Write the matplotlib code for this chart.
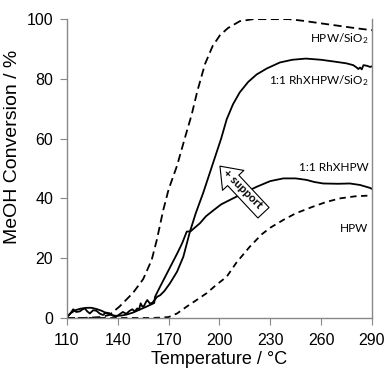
import numpy as np
import matplotlib
matplotlib.use('Agg')
import matplotlib.pyplot as plt

plt.rcParams['font.family'] = 'Liberation Sans'
plt.rcParams['mathtext.default'] = 'regular'

# HPW/SiO2 (dashed)
t_hpw_si = [110, 120, 130, 135, 141, 149, 155, 160, 163, 166.8, 170, 175, 180, 183.6, 187, 191.5,
            196, 200.3, 205, 212, 220, 230, 241, 250, 261, 270, 280, 290]
c_hpw_si = [0, 0, 0.3, 1.0, 3.8, 8.4, 13, 19.4, 26, 36, 43, 51, 61, 68, 76, 85,
            91, 94.6, 97, 99.3, 100, 100, 100, 99.4, 98.5, 97.8, 97, 96.3]

# HPW (dashed)
t_hpw = [110, 130, 150, 160, 165, 170, 175, 180.7, 186, 192.5, 198, 204.3, 210, 218, 225, 230,
         237.7, 245, 255, 263, 271, 280, 290]
c_hpw = [0, 0, 0, 0, 0.1, 0.3, 1.5, 3.8, 5.8, 8.3, 11, 13.8, 18.5, 23.9, 28, 30.2,
         32.8, 35, 37.2, 38.8, 40, 40.7, 41]

# 1:1 RhXHPW/SiO2 (solid, noisy at start)
t_rh_si = [110, 112, 113.7, 115.5, 117.6, 119, 120.5, 122, 123.5, 125.5, 127.4, 129.5, 131.3, 133, 135,
           137, 139, 141, 143, 145, 147, 148.6, 150, 151.5, 152.5, 153.5, 154.5, 155.5, 156.5, 157.4,
           159, 160.4, 162, 163.3, 165, 167.5, 170.8, 175, 178.7, 182.6, 186, 190.5, 194, 197.5,
           201, 204.3, 208, 212, 217, 222, 228, 235.7, 243, 251, 260, 269, 275, 279, 281, 282,
           283, 284, 285, 287, 289, 290]
c_rh_si = [0.3, 1.5, 2.9, 2.0, 2.2, 2.8, 3.2, 2.2, 1.5, 2.6, 2.4, 1.4, 1.0, 1.8, 1.6,
           0.8, 0.4, 1.2, 2.0, 1.4, 2.4, 2.9, 2.2, 3.2, 2.7, 4.9, 3.8, 4.0, 5.2, 6.0,
           4.8, 5.1, 6.2, 7.1, 7.6, 9.0, 11.6, 15.5, 20.5, 28.9, 35, 42, 48, 54,
           60, 66.5, 71.5, 75.5, 79, 81.5, 83.5, 85.5, 86.4, 86.8, 86.4, 85.7, 85.2, 84.6, 83.8, 83.3,
           83.8, 83.2, 84.6, 84.4, 84.0, 84.2]

# 1:1 RhXHPW (solid)
t_rh = [110, 112, 115, 118, 121.6, 124.5, 127.4, 130.5, 133.3, 136, 139, 142, 145, 149, 153, 157,
        161.5, 162, 165, 170, 175, 178, 180.7, 183, 185, 188.5, 192, 196.4, 201, 206.2, 214, 222,
        230, 237.7, 245, 251.4, 256, 261.3, 270, 277, 283, 289, 290]
c_rh = [0.3, 1.5, 2.6, 3.1, 3.4, 3.4, 3.0, 2.4, 1.6, 1.0, 0.7, 0.8, 1.1, 1.8, 2.8, 3.8,
        5.0, 7.1, 10.5, 16, 21.5, 25, 28.9, 29, 30, 31.7, 34, 36, 38, 39.5, 41.7, 43.9,
        45.8, 46.7, 46.7, 46.2, 45.5, 45, 44.9, 45, 44.5, 43.5, 43.2]

labels = [r'HPW/SiO$_2$', r'1:1 RhXHPW/SiO$_2$', '1:1 RhXHPW', 'HPW']
label_y = [93.6, 79.3, 50.5, 29.8]

x_ticks = [110, 140, 170, 200, 230, 260, 290]
y_ticks = [0, 20, 40, 60, 80, 100]

fig = plt.figure(figsize=(3.87, 3.68), dpi=100)
ax = fig.add_axes([0.173, 0.136, 0.788, 0.812])

ax.plot(t_hpw_si, c_hpw_si, color='black', lw=1.3, dashes=(4.5, 2.5))
ax.plot(t_hpw, c_hpw, color='black', lw=1.3, dashes=(3.5, 2.5))
ax.plot(t_rh_si, c_rh_si, color='black', lw=1.3)
ax.plot(t_rh, c_rh, color='black', lw=1.3)

for lab, yy in zip(labels, label_y):
    ax.text(288, yy, lab, ha='right', va='center', fontsize=8.5, family='Lato')

# hollow arrow "+ support"
ax.annotate('', xy=(200.3, 50.8), xytext=(226, 35.2),
            arrowprops=dict(arrowstyle='simple,head_length=1.4,head_width=2.1,tail_width=1.1',
                            fc='white', ec='black', lw=0.8, mutation_scale=10,
                            shrinkA=0, shrinkB=0))
ax.text(214, 43.3, '+ support', rotation=-45, ha='center', va='center',
        fontsize=8.5, family='Lato', fontweight='bold', rotation_mode='anchor')

ax.set_xlim(110, 290)
ax.set_ylim(0, 100)
ax.set_xticks(x_ticks)
ax.set_yticks(y_ticks)
ax.tick_params(axis='both', direction='out', length=5, color='#888888', labelsize=11.5)
ax.tick_params(axis='x', pad=6)
ax.tick_params(axis='y', pad=5)
ax.spines['top'].set_visible(False)
for s in ['left', 'bottom', 'right']:
    ax.spines[s].set_color('#888888')
    ax.spines[s].set_linewidth(1)

ax.set_xlabel('Temperature / °C', fontsize=13, labelpad=2)
ax.set_ylabel('MeOH Conversion / %', fontsize=14)
ax.yaxis.set_label_coords(-0.151, 0.572)

fig.savefig('out.png', dpi=100)
